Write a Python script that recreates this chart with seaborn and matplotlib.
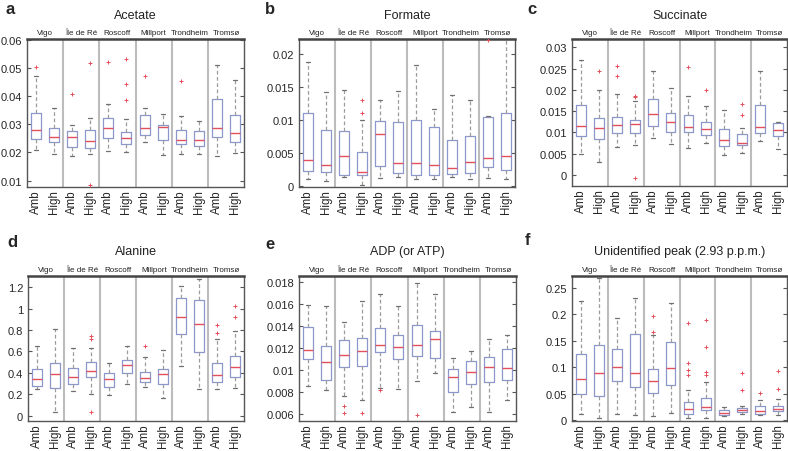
import numpy as np
import pandas as pd
import seaborn as sns
import matplotlib.pyplot as plt
from matplotlib.ticker import FuncFormatter

SITES = ["Vigo", "Île de Ré", "Roscoff", "Millport", "Trondheim", "Tromsø"]
TREATMENTS = ["Amb", "High"]

# five-number summaries per box, order: Vigo Amb, Vigo High, Île Amb, Île High, ...
acetate_lo = [0.0210, 0.0193, 0.0187, 0.0195, 0.0203, 0.0202, 0.0235, 0.0192, 0.0195, 0.0195, 0.0187, 0.0197]
acetate_q1 = [0.0246, 0.0236, 0.0220, 0.0215, 0.0250, 0.0230, 0.0263, 0.0245, 0.0230, 0.0222, 0.0253, 0.0238]
acetate_med = [0.0280, 0.0253, 0.0253, 0.0240, 0.0285, 0.0250, 0.0288, 0.0290, 0.0243, 0.0245, 0.0285, 0.0268]
acetate_q3 = [0.0340, 0.0287, 0.0277, 0.0280, 0.0320, 0.0272, 0.0332, 0.0297, 0.0280, 0.0277, 0.0388, 0.0333]
acetate_hi = [0.0470, 0.0357, 0.0298, 0.0320, 0.0370, 0.0317, 0.0357, 0.0337, 0.0328, 0.0312, 0.0510, 0.0455]
acetate_out = [[0.0503], [], [0.0408], [0.0518, 0.0085], [0.0520], [0.0530, 0.0443, 0.0386],
               [0.0470], [], [0.0453], [], [], []]

formate_lo = [0.0010, 0.0008, 0.0013, 0.0001, 0.0012, 0.0013, 0.0010, 0.0011, 0.0014, 0.0011, 0.0012, 0.0010]
formate_q1 = [0.0022, 0.0021, 0.0016, 0.0017, 0.0030, 0.0020, 0.0016, 0.0016, 0.0018, 0.0019, 0.0029, 0.0024]
formate_med = [0.0040, 0.0032, 0.0045, 0.0021, 0.0079, 0.0034, 0.0034, 0.0031, 0.0027, 0.0037, 0.0043, 0.0045]
formate_q3 = [0.0110, 0.0084, 0.0083, 0.0052, 0.0098, 0.0096, 0.0099, 0.0089, 0.0070, 0.0076, 0.0104, 0.0110]
formate_hi = [0.0187, 0.0142, 0.0145, 0.0100, 0.0130, 0.0144, 0.0182, 0.0116, 0.0138, 0.0130, 0.0106, 0.0230]
formate_out = [[], [], [], [0.0130, 0.0110], [], [], [], [], [], [], [0.0220], []]

succinate_lo = [0.0050, 0.0030, 0.0065, 0.0070, 0.0087, 0.0073, 0.0063, 0.0075, 0.0047, 0.0052, 0.0079, 0.0062]
succinate_q1 = [0.0092, 0.0085, 0.0098, 0.0098, 0.0115, 0.0100, 0.0100, 0.0093, 0.0067, 0.0071, 0.0098, 0.0092]
succinate_med = [0.0116, 0.0110, 0.0118, 0.0119, 0.0143, 0.0125, 0.0112, 0.0108, 0.0082, 0.0076, 0.0112, 0.0105]
succinate_q3 = [0.0165, 0.0134, 0.0136, 0.0130, 0.0178, 0.0147, 0.0140, 0.0124, 0.0107, 0.0097, 0.0165, 0.0123]
succinate_hi = [0.0270, 0.0200, 0.0190, 0.0175, 0.0245, 0.0204, 0.0187, 0.0163, 0.0153, 0.0110, 0.0245, 0.0124]
succinate_out = [[], [0.0245], [0.0257, 0.0233], [0.0186, 0.0183, -0.0007], [], [], [0.0253], [0.0201],
                 [], [0.0168, 0.0140], [], []]

alanine_lo = [0.250, 0.030, 0.230, 0.205, 0.195, 0.295, 0.270, 0.165, 0.465, 0.250, 0.250, 0.255]
alanine_q1 = [0.280, 0.255, 0.300, 0.360, 0.265, 0.400, 0.310, 0.300, 0.760, 0.595, 0.310, 0.360]
alanine_med = [0.345, 0.385, 0.360, 0.415, 0.340, 0.470, 0.350, 0.385, 0.920, 0.860, 0.380, 0.455]
alanine_q3 = [0.435, 0.490, 0.445, 0.505, 0.400, 0.520, 0.410, 0.440, 1.100, 1.080, 0.495, 0.560]
alanine_hi = [0.650, 0.810, 0.635, 0.635, 0.490, 0.650, 0.550, 0.610, 1.215, 1.275, 0.715, 0.790]
alanine_out = [[], [], [], [0.740, 0.720, 0.030], [], [], [0.650], [], [], [], [0.850, 0.770], [1.025, 0.920]]

adp_lo = [0.0086, 0.0082, 0.0077, 0.0073, 0.0084, 0.0083, 0.0090, 0.0097, 0.0062, 0.0067, 0.0062, 0.0073]
adp_q1 = [0.0110, 0.0091, 0.0103, 0.0104, 0.0116, 0.0110, 0.0113, 0.0111, 0.0080, 0.0087, 0.0089, 0.0091]
adp_med = [0.0118, 0.0107, 0.0114, 0.0117, 0.0123, 0.0121, 0.0123, 0.0128, 0.0094, 0.0098, 0.0103, 0.0102]
adp_q3 = [0.0139, 0.0122, 0.0127, 0.0129, 0.0138, 0.0132, 0.0141, 0.0135, 0.0101, 0.0108, 0.0112, 0.0119]
adp_hi = [0.0159, 0.0158, 0.0143, 0.0162, 0.0169, 0.0158, 0.0179, 0.0169, 0.0111, 0.0117, 0.0128, 0.0132]
adp_out = [[], [], [0.0068, 0.0061], [0.0061], [0.0082], [], [0.0059], [], [], [], [], []]

peak_lo = [0.013, 0.004, 0.012, 0.010, 0.009, 0.014, 0.004, 0.004, 0.008, 0.012, 0.011, 0.011]
peak_q1 = [0.050, 0.047, 0.074, 0.063, 0.051, 0.066, 0.013, 0.019, 0.011, 0.016, 0.013, 0.017]
peak_med = [0.078, 0.090, 0.101, 0.089, 0.074, 0.098, 0.022, 0.026, 0.015, 0.019, 0.017, 0.022]
peak_q3 = [0.125, 0.142, 0.134, 0.162, 0.096, 0.147, 0.035, 0.042, 0.019, 0.023, 0.027, 0.028]
peak_hi = [0.225, 0.268, 0.192, 0.231, 0.160, 0.222, 0.057, 0.073, 0.026, 0.028, 0.039, 0.041]
peak_out = [[], [], [], [], [0.196, 0.167], [], [0.183, 0.108, 0.095, 0.085], [0.190, 0.138, 0.092, 0.086],
            [], [0.090, 0.057], [0.052], [0.094, 0.059]]

acetate_ticks = [0.01, 0.02, 0.03, 0.04, 0.05, 0.06]
formate_ticks = [0, 0.005, 0.01, 0.015, 0.02]
succinate_ticks = [0, 0.005, 0.01, 0.015, 0.02, 0.025, 0.03]
alanine_ticks = [0, 0.2, 0.4, 0.6, 0.8, 1, 1.2]
adp_ticks = [0.006, 0.008, 0.01, 0.012, 0.014, 0.016, 0.018]
peak_ticks = [0, 0.05, 0.1, 0.15, 0.2, 0.25]

panels = [
    ("a", "Acetate", (acetate_lo, acetate_q1, acetate_med, acetate_q3, acetate_hi), acetate_out,
     acetate_ticks, (0.0077, 0.0602), (27, 40, 244, 188), (6, 10)),
    ("b", "Formate", (formate_lo, formate_q1, formate_med, formate_q3, formate_hi), formate_out,
     formate_ticks, (-0.00015, 0.0222), (299, 40, 515, 188), (265, 10)),
    ("c", "Succinate", (succinate_lo, succinate_q1, succinate_med, succinate_q3, succinate_hi), succinate_out,
     succinate_ticks, (-0.0026, 0.032), (572, 40, 787, 187), (527, 10)),
    ("d", "Alanine", (alanine_lo, alanine_q1, alanine_med, alanine_q3, alanine_hi), alanine_out,
     alanine_ticks, (-0.05, 1.305), (28, 277, 244, 422), (7, 243)),
    ("e", "ADP (or ATP)", (adp_lo, adp_q1, adp_med, adp_q3, adp_hi), adp_out,
     adp_ticks, (0.0054, 0.0185), (299, 277, 516, 422), (265, 245)),
    ("f", "Unidentified peak (2.93 p.p.m.)", (peak_lo, peak_q1, peak_med, peak_q3, peak_hi), peak_out,
     peak_ticks, (-0.001, 0.272), (572, 277, 787, 422), (525, 241)),
]

groups = [f"{s} {t}" for s in SITES for t in TREATMENTS]

sns.set_style("white")
plt.rcParams["font.family"] = ["Liberation Sans", "DejaVu Sans"]

W, H = 788, 452
fig = plt.figure(figsize=(W / 100, H / 100), dpi=100)

BOX_C = "#8c98cc"
MED_C = "#e2505c"
WHISK_C = "#9c9c9c"
CAP_C = "#707070"
SEP_C = "#bcbcbc"
FRAME_C = "#555555"

for letter, title, summary, outliers, ticks, ylim, box, letter_xy in panels:
    l, t, r, b = box
    ax = fig.add_axes([l / W, 1 - b / H, (r - l) / W, (b - t) / H])

    rows = []
    for i, g in enumerate(groups):
        for arr in summary:
            rows.append((g, arr[i]))
    df = pd.DataFrame(rows, columns=["group", "value"])
    out_rows = [(g, v) for g, vals in zip(groups, outliers) for v in vals]
    df_out = pd.DataFrame(out_rows, columns=["group", "value"])

    sns.boxplot(data=df, x="group", y="value", order=groups, whis=np.inf, fill=False,
                width=0.55, showfliers=False, linewidth=0.9, linecolor=BOX_C, ax=ax,
                boxprops=dict(color=BOX_C, linewidth=0.9),
                medianprops=dict(color=MED_C, linewidth=1.0),
                whiskerprops=dict(color=WHISK_C, linestyle=(0, (3, 2)), linewidth=0.9),
                capprops=dict(color=CAP_C, linewidth=0.9),
                capwidths=0.22)
    sns.stripplot(data=df_out, x="group", y="value", order=groups, jitter=False,
                  marker="+", color=MED_C, size=3.2, linewidth=0.7, ax=ax)

    for k in range(1, len(SITES)):
        ax.axvline(2 * k - 0.5, color=SEP_C, lw=1.5, zorder=0)

    ax.set_xlim(-0.5, len(groups) - 0.5)
    ax.set_ylim(*ylim)
    ax.set_yticks(ticks)
    ax.yaxis.set_major_formatter(FuncFormatter(lambda v, p: f"{v:g}"))
    ax.set_xticks(range(len(groups)))
    ax.set_xticklabels(TREATMENTS * len(SITES), rotation=90)
    ax.set_xlabel("")
    ax.set_ylabel("")
    ax.tick_params(axis="y", direction="in", length=3, width=0.8, color=FRAME_C,
                   right=True, left=True, labelsize=8, pad=3.5)
    ax.tick_params(axis="x", length=0, labelsize=8.3, pad=1.5)

    for side in ["left", "right", "bottom"]:
        ax.spines[side].set_color(FRAME_C)
        ax.spines[side].set_linewidth(1.0)
    ax.spines["top"].set_color("#444444")
    ax.spines["top"].set_linewidth(1.8)

    for k, site in enumerate(SITES):
        ax.annotate(site, xy=(2 * k + 0.5, 1), xycoords=ax.get_xaxis_transform(),
                    xytext=(0, 3.5), textcoords="offset points",
                    ha="center", va="baseline", fontsize=5.8, color="#222222")
    ax.set_title(title, fontsize=9, pad=15 if t < 100 else 16, color="#222222")

    fig.text(letter_xy[0] / W, 1 - letter_xy[1] / H, letter, fontsize=12,
             fontweight="bold", va="center", ha="left")

fig.savefig("out.png", dpi=100)
plt.close(fig)
